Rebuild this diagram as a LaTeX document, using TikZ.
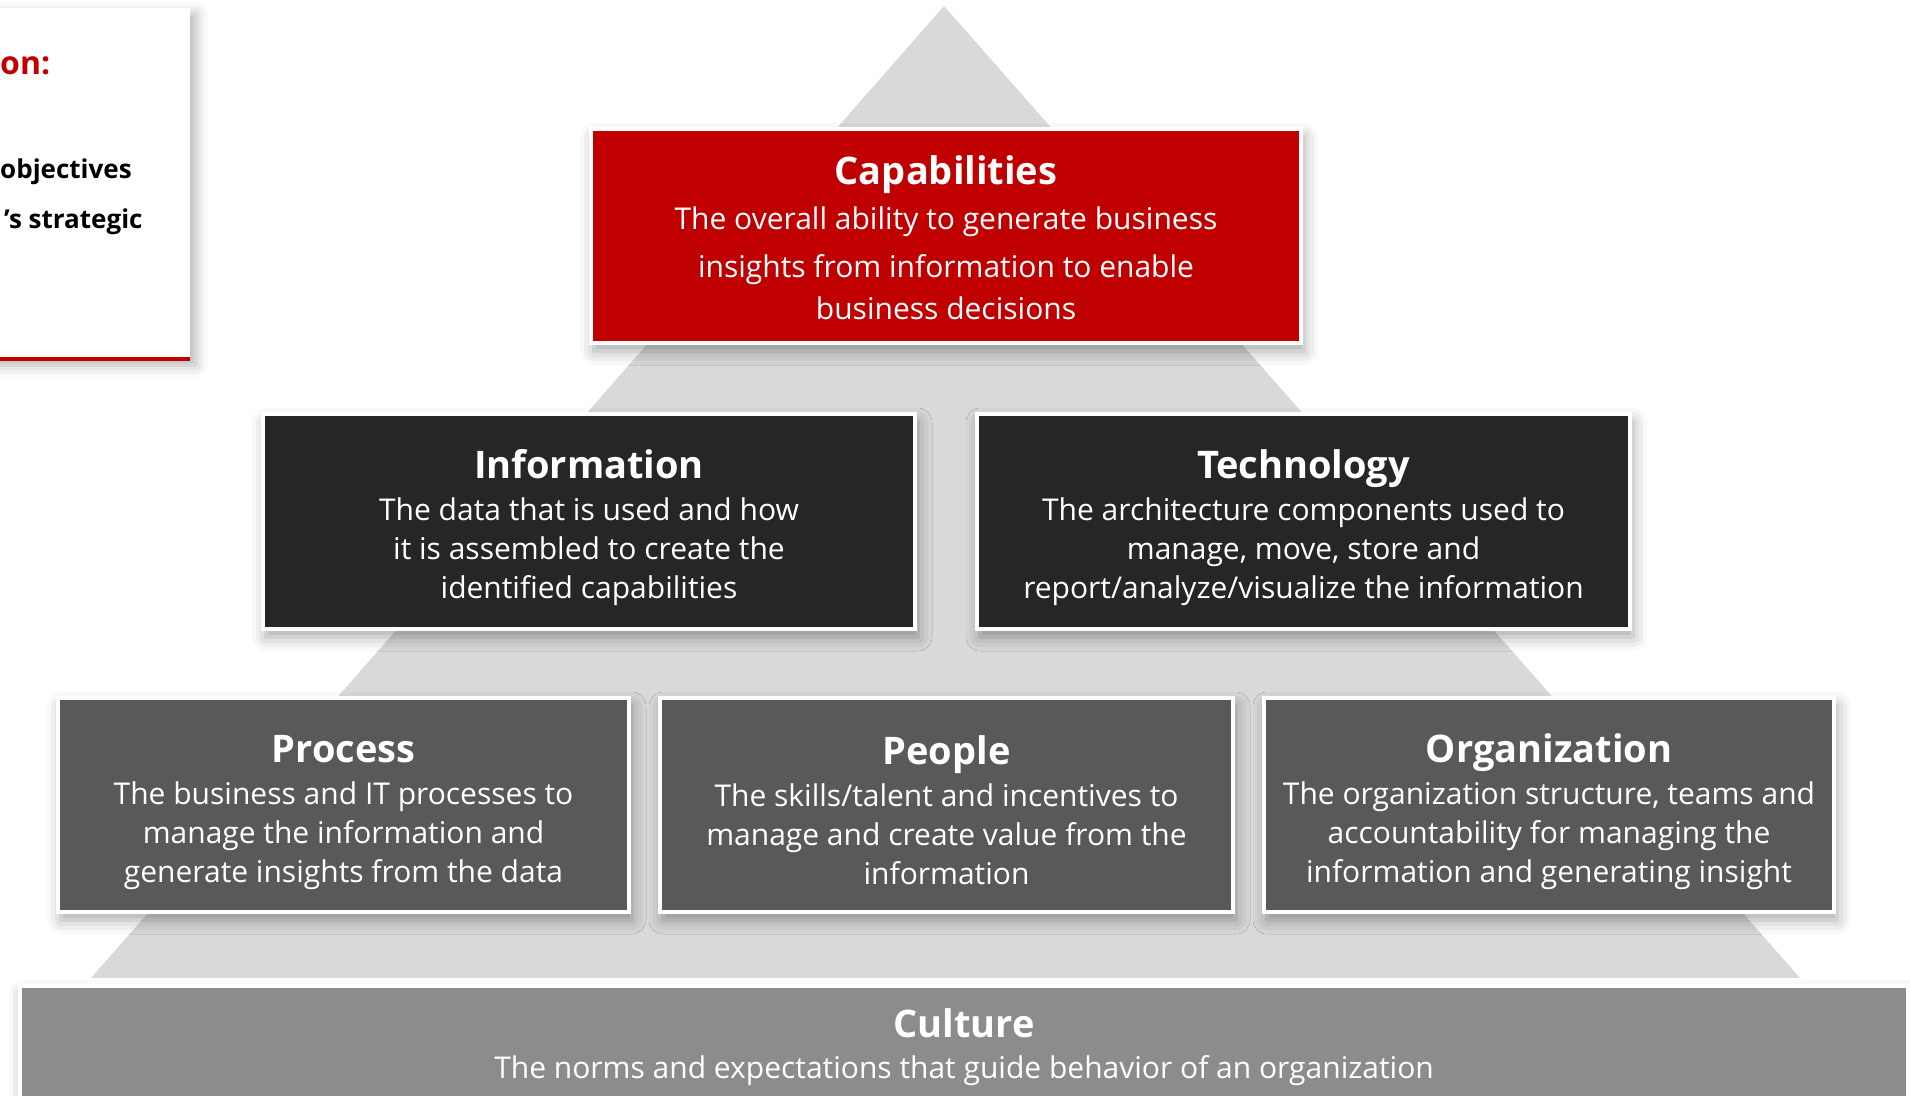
\documentclass[tikz,border=0pt]{standalone}
\usepackage{fontspec}
\setmainfont{Open Sans}
\usetikzlibrary{shadows.blur}
\definecolor{capred}{HTML}{C00000}
\definecolor{infodark}{HTML}{262626}
\definecolor{procgray}{HTML}{595959}
\definecolor{cultgray}{HTML}{8C8C8C}
\definecolor{pyrgray}{HTML}{D9D9D9}
\newcommand{\blkbody}{\fontsize{30}{39}\selectfont}
\newcommand{\blktitle}[2][42pt]{{\fontsize{38}{44}\selectfont\bfseries\rule{0pt}{#1}#2}}

\begin{document}
\begin{tikzpicture}[x=1pt,y=-1pt]
\tikzstyle{blk}=[rectangle,draw=white,line width=4pt,align=center,text=white,font=\blkbody,inner sep=0pt,blur shadow={shadow xshift=3pt,shadow yshift=-8pt,shadow blur radius=14pt,shadow opacity=35}]
\useasboundingbox (0,0) rectangle (1910,1095);
% pyramid behind the blocks
\fill[pyrgray] (944,6) -- (1800,978) -- (91,978) -- cycle;
% left note box, cut off by the page edge
\node[rectangle,fill=white,minimum width=230pt,minimum height=351pt,anchor=north east,inner sep=0pt,
  blur shadow={shadow xshift=6pt,shadow yshift=-6pt,shadow blur radius=12pt,shadow opacity=30}] (note) at (190,8) {};
\draw[capred,line width=4pt] (note.south west) -- (note.south east);
\node[anchor=west,text=capred,font=\fontsize{32}{38}\selectfont\bfseries,inner sep=0pt] (notehead) at (0,66) {on:};
\node[anchor=west,font=\fontsize{26}{30}\selectfont\bfseries,inner sep=0pt] (noteone) at (0,172) {objectives};
\node[anchor=west,font=\fontsize{26}{30}\selectfont\bfseries,inner sep=0pt] (notetwo) at (4,222) {’s strategic};
% blocks
\node[blk,fill=cultgray,minimum width=1888pt,minimum height=122pt,anchor=north west] (culture) at (18,984)
  {{\fontsize{38}{44}\selectfont\bfseries Culture}\\[2pt] The norms and expectations that guide behavior of an organization};
\node[blk,fill=capred,minimum width=710pt,minimum height=214pt,font=\fontsize{30}{40}\selectfont] (cap) at (946,236)
  {\blktitle[33pt]{Capabilities}\\[5pt] The overall ability to generate business\\[8pt] insights from information to enable\\[2pt] business decisions};
\node[blk,fill=infodark,minimum width=652pt,minimum height=215pt] (info) at (589,521.5)
  {\blktitle{Information}\\[3pt] The data that is used and how\\ it is assembled to create the\\ identified capabilities};
\node[blk,fill=infodark,minimum width=653pt,minimum height=215pt] (tech) at (1303.5,521.5)
  {\blktitle{Technology}\\[3pt] The architecture components used to\\ manage, move, store and\\ report/analyze/visualize the information};
\node[blk,fill=procgray,minimum width=571pt,minimum height=214pt] (proc) at (343.5,805)
  {\blktitle{Process}\\[3pt] The business and IT processes to\\ manage the information and\\ generate insights from the data};
\node[blk,fill=procgray,minimum width=573pt,minimum height=214pt] (people) at (946.5,805)
  {\blktitle{People}\\[3pt] The skills/talent and incentives to\\ manage and create value from the\\ information\rule[-3pt]{0pt}{3pt}};
\node[blk,fill=procgray,minimum width=570pt,minimum height=214pt] (org) at (1549,805)
  {\blktitle{Organization}\\[3pt] The organization structure, teams and\\ accountability for managing the\\ information and generating insight};
\end{tikzpicture}
\end{document}
